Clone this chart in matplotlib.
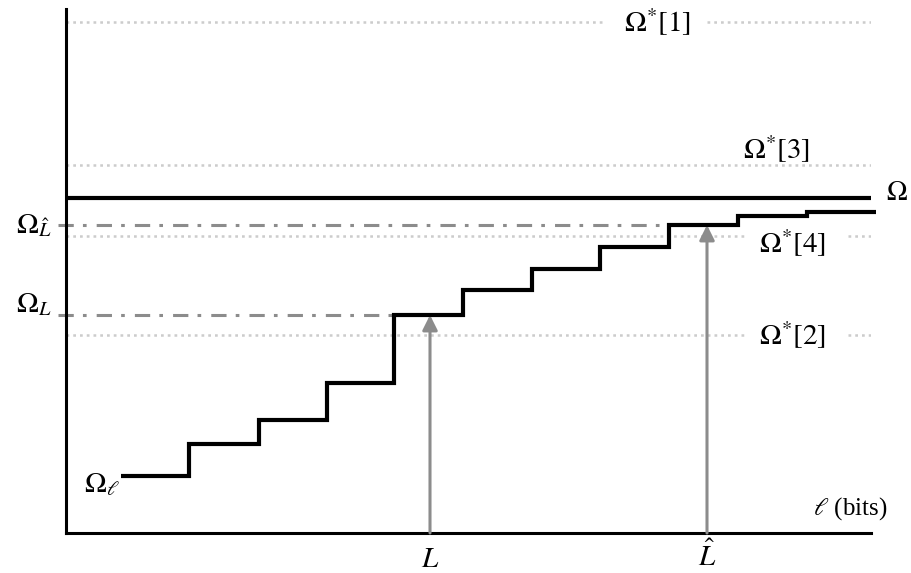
import numpy as np
import matplotlib
matplotlib.use("Agg")
import matplotlib.pyplot as plt

plt.rcParams['mathtext.fontset'] = 'stix'
plt.rcParams['font.family'] = ['Liberation Serif', 'DejaVu Serif']

# staircase Omega_l (x in bit units, y in value units)
step_edges = [55, 123, 193, 261, 328, 397, 466, 534, 603, 672, 741, 810]
step_levels = [57, 89, 113, 150, 218, 243, 264, 286, 308, 317, 321]

omega = 335
L_val, L_hat = 364, 641
omega_L, omega_Lhat = 218, 308

# reference levels Omega*[k] and where their labels sit
star_names = ['1', '3', '4', '2']
star_levels = [511, 368, 297, 198]
star_label_x = [592, 711, 727, 727]
star_label_y = [511, 384, 290, 198]
star_gaps = [(537, 641), None, (681, 782), (681, 782)]

xmax, ymax = 805, 524

fig = plt.figure(figsize=(9.11, 5.73), dpi=100)
ax = fig.add_axes([66 / 911, 40 / 573, 805 / 911, 524 / 573])
ax.set_xlim(0, xmax)
ax.set_ylim(0, ymax)
for s in ['top', 'right']:
    ax.spines[s].set_visible(False)
for s in ['left', 'bottom']:
    ax.spines[s].set_linewidth(2.2)
ax.set_xticks([])
ax.set_yticks([])

fs = 21

dot_style = dict(color='#cccccc', lw=1.8, linestyle=(0, (1.1, 1.6)), zorder=1)
for name, lev, gap in zip(star_names, star_levels, star_gaps):
    if gap is None:
        ax.plot([0, xmax], [lev, lev], **dot_style)
    else:
        ax.plot([0, gap[0]], [lev, lev], **dot_style)
        ax.plot([gap[1], xmax], [lev, lev], **dot_style)
for name, lx, ly in zip(star_names, star_label_x, star_label_y):
    ax.text(lx, ly, r'$\Omega^{*}[%s]$' % name, fontsize=fs, ha='center', va='center')

# Omega line
ax.plot([0, xmax], [omega, omega], color='black', lw=3, solid_capstyle='butt', zorder=3)
ax.text(xmax + 26, omega + 4, r'$\Omega$', fontsize=fs - 1, ha='center', va='center')

# dash-dot guides
dd = dict(color='#8c8c8c', lw=2.2, linestyle=(0, (5, 3, 1.2, 3.3)), zorder=2, clip_on=False)
ax.plot([-8, step_edges[4]], [omega_L, omega_L], **dd)
ax.plot([-8, step_edges[8]], [omega_Lhat, omega_Lhat], **dd)
ax.text(-14, omega_L + 10, r'$\Omega_L$', fontsize=fs, ha='right', va='center')
ax.text(-14, omega_Lhat - 1, r'$\Omega_{\hat{L}}$', fontsize=fs, ha='right', va='center')

# staircase
ax.stairs(step_levels, step_edges, color='black', lw=3, baseline=None, zorder=4, clip_on=False)
ax.text(step_edges[0] - 1, step_levels[0] - 9, r'$\Omega_\ell$', fontsize=fs, ha='right', va='center')

# arrows
for xv, yv, lab, dy in [(L_val, omega_L, r'$L$', -27), (L_hat, omega_Lhat, r'$\hat{L}$', -23)]:
    ax.annotate('', xy=(xv, yv), xytext=(xv, 0),
                arrowprops=dict(arrowstyle='-|>,head_length=0.9,head_width=0.45',
                                color='#8c8c8c', lw=2.2, shrinkA=0, shrinkB=0), zorder=5)
    ax.text(xv, dy, lab, fontsize=fs, ha='center', va='center')

ax.text(784, 24, r'$\ell$ (bits)', fontsize=18, ha='center', va='center')

fig.savefig('out.png', dpi=100)
